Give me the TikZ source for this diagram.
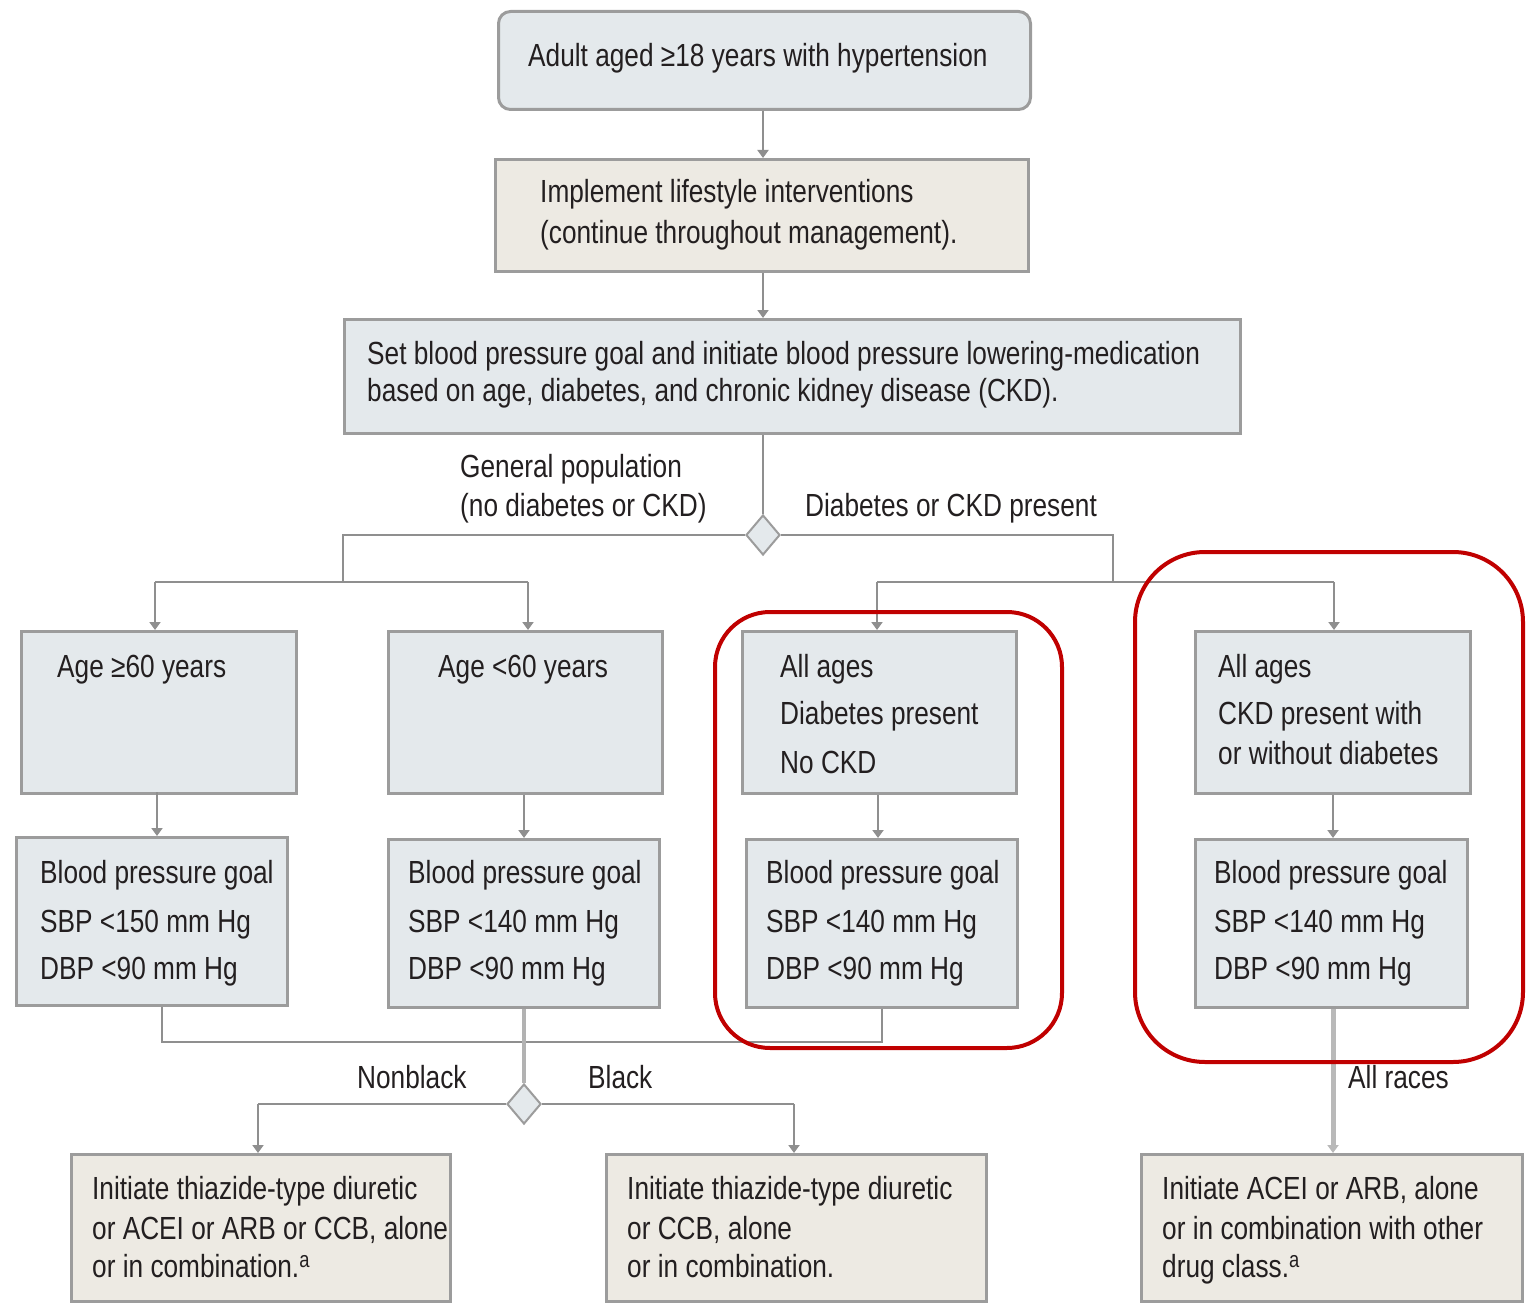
\documentclass[tikz,border=0pt]{standalone}
\usepackage{fontspec}
\setmainfont{Liberation Sans}[FakeStretch=0.82]
\usetikzlibrary{shapes.geometric,arrows.meta}
\definecolor{bluefill}{HTML}{E4E9EC}
\definecolor{beigefill}{HTML}{EDEAE3}
\definecolor{bordergray}{HTML}{9C9C9C}
\definecolor{conngray}{HTML}{8F8F8F}
\definecolor{txtcol}{HTML}{231F20}
\definecolor{redframe}{HTML}{C00000}
\tikzset{
  boxbase/.style={draw=bordergray, line width=3pt, anchor=north west, inner sep=0pt},
  bluebox/.style={boxbase, fill=bluefill},
  beigebox/.style={boxbase, fill=beigefill},
  txt/.style={anchor=base west, inner sep=0pt, text=txtcol, font=\fontsize{32}{38}\selectfont},
  conn/.style={draw=conngray, line width=2.5pt},
  arr/.style={conn, -{Triangle[width=11pt,length=8pt]}},
  dia/.style={diamond, draw=bordergray, fill=bluefill, line width=2pt, inner sep=0pt, minimum width=34pt, minimum height=40pt},
  redbox/.style={draw=redframe, line width=4pt},
}
\begin{document}
\begin{tikzpicture}[x=1pt,y=-1pt]
\useasboundingbox (0,0) rectangle (1527,1303);

% ---- boxes ----
\node[bluebox, rounded corners=12pt, minimum width=532pt, minimum height=98pt] (A) at (497,10) {};
\node[beigebox, minimum width=533pt, minimum height=112pt] (B) at (494,158) {};
\node[bluebox, minimum width=896pt, minimum height=114pt] (C) at (343,318) {};

\node[bluebox, minimum width=275pt, minimum height=162pt] (D1) at (20,630) {};
\node[bluebox, minimum width=274pt, minimum height=162pt] (D2) at (387,630) {};
\node[bluebox, minimum width=274pt, minimum height=162pt] (D3) at (741,630) {};
\node[bluebox, minimum width=275pt, minimum height=162pt] (D4) at (1194,630) {};

\node[bluebox, minimum width=271pt, minimum height=168pt] (E1) at (15,836) {};
\node[bluebox, minimum width=271pt, minimum height=168pt] (E2) at (387,838) {};
\node[bluebox, minimum width=271pt, minimum height=168pt] (E3) at (745,838) {};
\node[bluebox, minimum width=272pt, minimum height=168pt] (E4) at (1194,838) {};

\node[beigebox, minimum width=379pt, minimum height=147pt] (F1) at (70,1153) {};
\node[beigebox, minimum width=380pt, minimum height=147pt] (F2) at (605,1153) {};
\node[beigebox, minimum width=381pt, minimum height=147pt] (F3) at (1140,1153) {};

\node[dia] (K1) at (763,535) {};
\node[dia] (K2) at (524,1104) {};

% ---- texts ----
\node[txt] (tA) at (528,67) {Adult aged ≥18 years with hypertension};
\node[txt] (tB1) at (540,203) {Implement lifestyle interventions};
\node[txt] (tB2) at (540,243) {(continue throughout management).};
\node[txt] (tC1) at (367,364) {Set blood pressure goal and initiate blood pressure lowering-medication};
\node[txt] (tC2) at (367,401) {based on age, diabetes, and chronic kidney disease (CKD).};

\node[txt] (lG1) at (460,477) {General population};
\node[txt] (lG2) at (460,516) {(no diabetes or CKD)};
\node[txt] (lD) at (805,516) {Diabetes or CKD present};

\node[txt] (tD1) at (57,677) {Age ≥60 years};
\node[txt] (tD2) at (438,677) {Age <60 years};
\node[txt] (tD3a) at (780,677) {All ages};
\node[txt] (tD3b) at (780,724) {Diabetes present};
\node[txt] (tD3c) at (780,773) {No CKD};
\node[txt] (tD4a) at (1218,677) {All ages};
\node[txt] (tD4b) at (1218,724) {CKD present with};
\node[txt] (tD4c) at (1218,764) {or without diabetes};

\node[txt] (tE1a) at (40,883) {Blood pressure goal};
\node[txt] (tE1b) at (40,932) {SBP <150 mm Hg};
\node[txt] (tE1c) at (40,979) {DBP <90 mm Hg};
\node[txt] (tE2a) at (408,883) {Blood pressure goal};
\node[txt] (tE2b) at (408,932) {SBP <140 mm Hg};
\node[txt] (tE2c) at (408,979) {DBP <90 mm Hg};
\node[txt] (tE3a) at (766,883) {Blood pressure goal};
\node[txt] (tE3b) at (766,932) {SBP <140 mm Hg};
\node[txt] (tE3c) at (766,979) {DBP <90 mm Hg};
\node[txt] (tE4a) at (1214,883) {Blood pressure goal};
\node[txt] (tE4b) at (1214,932) {SBP <140 mm Hg};
\node[txt] (tE4c) at (1214,979) {DBP <90 mm Hg};

\node[txt] (lN) at (357,1088) {Nonblack};
\node[txt] (lB) at (588,1088) {Black};
\node[txt] (lR) at (1348,1088) {All races};

\node[txt] (tF1a) at (92,1199) {Initiate thiazide-type diuretic};
\node[txt] (tF1b) at (92,1239) {or ACEI or ARB or CCB, alone};
\node[txt] (tF1c) at (92,1277) {or in combination.\textsuperscript{a}};
\node[txt] (tF2a) at (627,1199) {Initiate thiazide-type diuretic};
\node[txt] (tF2b) at (627,1239) {or CCB, alone};
\node[txt] (tF2c) at (627,1277) {or in combination.};
\node[txt] (tF3a) at (1162,1199) {Initiate ACEI or ARB, alone};
\node[txt] (tF3b) at (1162,1239) {or in combination with other};
\node[txt] (tF3c) at (1162,1277) {drug class.\textsuperscript{a}};

% ---- connectors ----
\coordinate (jL) at (343,582);
\coordinate (jR) at (1113,582);
\coordinate (hL1) at (155,582);
\coordinate (hL2) at (528,582);
\coordinate (hR1) at (877,582);
\coordinate (hR2) at (1334,582);
\coordinate (jE1) at (162,1042);
\coordinate (jE3) at (882,1042);
\coordinate (hN) at (258,1104);
\coordinate (hB) at (794,1104);

\draw[arr] (A.south -| 763,0) -- (B.north -| 763,0);
\draw[arr] (B.south -| 763,0) -- (C.north -| 763,0);
\draw[conn] (C.south -| 763,0) -- (K1.north);
\draw[conn] (K1.west) -| (jL);
\draw[conn] (K1.east) -| (jR);
\draw[conn] (hL1) -- (hL2);
\draw[conn] (hR1) -- (hR2);
\draw[arr] (hL1) -- (hL1 |- D1.north);
\draw[arr] (hL2) -- (hL2 |- D2.north);
\draw[arr] (hR1) -- (hR1 |- D3.north);
\draw[arr] (hR2) -- (hR2 |- D4.north);

\draw[arr] (157,792) -- (157,836);
\draw[arr] (D2.south -| 524,0) -- (E2.north -| 524,0);
\draw[arr] (D3.south -| 878,0) -- (E3.north -| 878,0);
\draw[arr] (D4.south -| 1333,0) -- (E4.north -| 1333,0);

\draw[conn] (E1.south -| jE1) -- (jE1) -- (jE3) -- (E3.south -| jE3);
\draw[conn, draw=gray!60, line width=3.5pt] (E2.south -| K2) -- (K2.north);
\draw[conn] (K2.west) -- (hN);
\draw[conn] (K2.east) -- (hB);
\draw[arr] (hN) -- (hN |- F1.north);
\draw[arr] (hB) -- (hB |- F2.north);
\draw[arr, draw=gray!55, line width=5pt] (E4.south -| 1333,0) -- (F3.north -| 1333,0);

% ---- red highlight frames ----
\draw[redbox, rounded corners=55pt] (715,612) rectangle (1062,1048);
\draw[redbox, rounded corners=70pt] (1135,552) rectangle (1523,1062);
\end{tikzpicture}
\end{document}
